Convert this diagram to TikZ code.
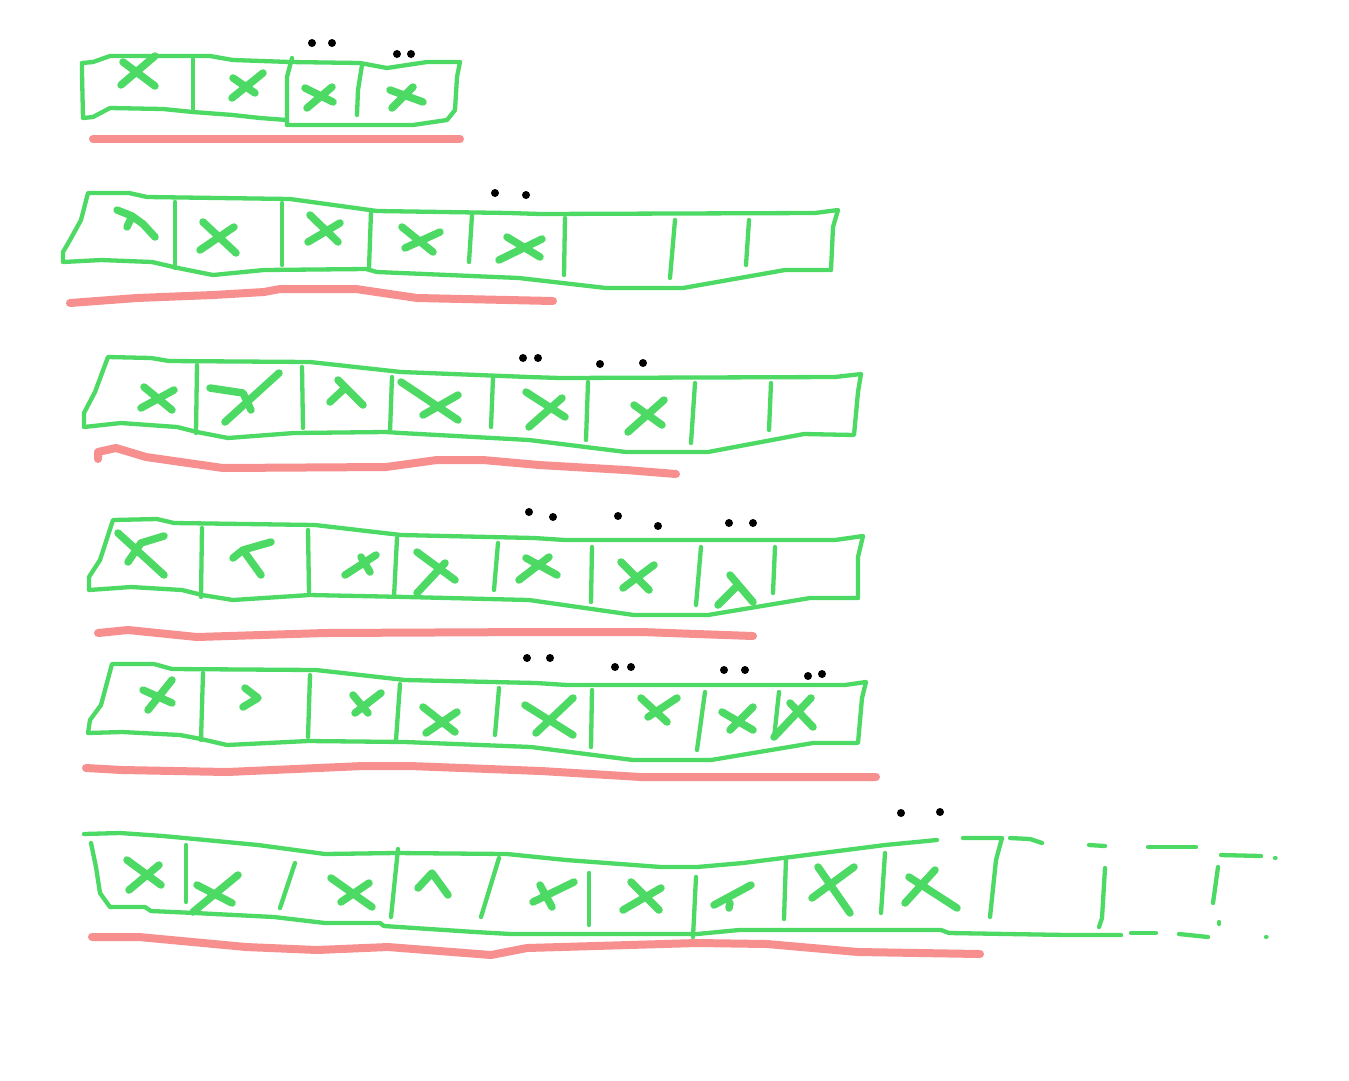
\documentclass[tikz,border=0pt]{standalone}
\definecolor{pen}{RGB}{76,217,100}
\definecolor{hl}{RGB}{247,143,143}
\begin{document}
\begin{tikzpicture}[x=1pt,y=-1pt,
  outline/.style={draw=pen,line width=4.3pt,line cap=round,line join=round},
  xmark/.style={draw=pen,line width=7.5pt,line cap=round,line join=round},
  under/.style={draw=hl,line width=8pt,line cap=round,line join=round},
  pdot/.style={fill=black}]
\useasboundingbox[fill=white] (0,0) rectangle (1349,1080);

% ---------------- Array 1 ----------------
\draw[outline] (82,63) -- (93,62) -- (110,56) -- (153,56) -- (210,56) -- (233,60) -- (290,62) -- (360,63) -- (387,68) -- (427,62) -- (460,62) -- (457,77) -- (455,110) -- (447,120) -- (413,125) -- (313,125) -- (287,125)
  -- (287,120) -- (260,118) -- (233,115) -- (193,112) -- (163,109) -- (110,108) -- (93,117) -- (83,118) -- (82,73) -- (82,63);
\draw[outline] (193,58) -- (193,112);
\draw[outline] (292,58) -- (287,77) -- (287,125);
\draw[outline] (362,65) -- (358,90) -- (357,115);
\draw[xmark] (121,85) -- (155,56) (123,62) -- (155,86);
\draw[xmark] (232,98) -- (263,73) (233,78) -- (255,93);
\draw[xmark] (307,108) -- (332,87) (305,88) -- (333,102);
\draw[xmark] (392,108) -- (413,87) (390,90) -- (423,102);
\fill[pdot] (312,43) circle (4pt) (332,43) circle (4pt) (397,54) circle (4pt) (411,54) circle (4pt);
\draw[under] (93,139) -- (460,139);

% ---------------- Array 2 ----------------
\draw[outline] (88,193) -- (129,193) -- (147,197) -- (290,199) -- (377,211) -- (509,213) -- (540,214) -- (815,213) -- (838,210) -- (833,227) -- (831,270) -- (785,270) -- (683,288) -- (606,288) -- (519,278) -- (377,272) -- (366,269) -- (264,270) -- (213,275) -- (178,268) -- (152,262) -- (101,260) -- (63,262) -- (63,252) -- (70,240) -- (81,220) -- cycle;
\draw[outline] (175,202) -- (175,268);
\draw[outline] (282,203) -- (282,265);
\draw[outline] (371,212) -- (369,268);
\draw[outline] (472,215) -- (469,262);
\draw[outline] (565,218) -- (564,275);
\draw[outline] (675,220) -- (670,278);
\draw[outline] (749,220) -- (746,265);
\draw[xmark] (117,210) -- (132,216) -- (143,224) -- (155,237) (132,216) -- (127,227);
\draw[xmark] (203,222) -- (236,253) (234,227) -- (200,250);
\draw[xmark] (310,215) -- (338,242) (340,223) -- (308,242);
\draw[xmark] (402,227) -- (433,252) (440,232) -- (405,248);
\draw[xmark] (507,237) -- (540,257) (542,239) -- (499,260);
\fill[pdot] (495,193) circle (4pt) (526,195) circle (4pt);
\draw[under] (70,303) -- (137,298) -- (213,295) -- (264,292) -- (280,289) -- (356,289) -- (417,298) -- (553,301);

% ---------------- Array 3 ----------------
\draw[outline] (108,357) -- (151,358) -- (169,361) -- (310,362) -- (401,372) -- (529,377) -- (560,378) -- (835,377) -- (861,374) -- (858,392) -- (854,435) -- (804,434) -- (708,452) -- (626,452) -- (529,440) -- (401,433) -- (386,432) -- (294,433) -- (228,438) -- (197,432) -- (177,427) -- (121,423) -- (84,427) -- (84,413) -- (95,392) -- cycle;
\draw[outline] (197,365) -- (196,433);
\draw[outline] (302,367) -- (303,428);
\draw[outline] (392,377) -- (390,432);
\draw[outline] (493,378) -- (491,427);
\draw[outline] (588,382) -- (586,440);
\draw[outline] (695,383) -- (691,443);
\draw[outline] (771,383) -- (769,430);
\draw[xmark] (144,387) -- (172,410) (174,390) -- (141,408);
\draw[xmark] (210,388) -- (243,393) -- (251,410) (279,373) -- (225,422);
\draw[xmark] (338,380) -- (363,405) (345,388) -- (330,402);
\draw[xmark] (401,382) -- (458,420) (458,395) -- (423,415);
\draw[xmark] (526,392) -- (565,417) (562,398) -- (529,427);
\draw[xmark] (634,405) -- (662,425) (664,400) -- (628,432);
\fill[pdot] (523,358) circle (4pt) (538,358) circle (4pt) (600,364) circle (4pt) (643,363) circle (4pt);
\draw[under] (98,459) -- (98,452) -- (116,448) -- (146,457) -- (223,468) -- (386,467) -- (437,460) -- (483,460) -- (539,465) -- (626,470) -- (676,474);

% ---------------- Array 4 ----------------
\draw[outline] (113,520) -- (157,519) -- (174,523) -- (315,525) -- (401,535) -- (534,538) -- (565,540) -- (835,540) -- (863,536) -- (858,557) -- (858,598) -- (810,598) -- (708,615) -- (634,615) -- (529,600) -- (407,597) -- (310,595) -- (233,600) -- (202,595) -- (182,590) -- (131,587) -- (89,590) -- (89,577) -- (100,560) -- cycle;
\draw[outline] (202,528) -- (201,597);
\draw[outline] (308,530) -- (309,592);
\draw[outline] (397,538) -- (394,597);
\draw[outline] (498,543) -- (494,590);
\draw[outline] (592,547) -- (591,602);
\draw[outline] (701,547) -- (696,605);
\draw[outline] (775,547) -- (773,593);
\draw[xmark] (118,533) -- (164,575) (164,536) -- (141,543) -- (128,562);
\draw[xmark] (271,542) -- (243,550) -- (233,558) (243,550) -- (261,575);
\draw[xmark] (345,575) -- (376,555) (361,557) -- (370,572);
\draw[xmark] (417,552) -- (455,580) (445,563) -- (417,593);
\draw[xmark] (526,558) -- (557,575) (549,557) -- (519,580);
\draw[xmark] (621,562) -- (649,590) (654,565) -- (623,588);
\draw[xmark] (730,575) -- (753,602) (738,585) -- (718,605);
\fill[pdot] (529,512) circle (4pt) (553,517) circle (4pt) (618,516) circle (4pt) (658,526) circle (4pt) (729,523) circle (4pt) (753,523) circle (4pt);
\draw[under] (98,633) -- (128,630) -- (197,637) -- (325,633) -- (539,632) -- (641,632) -- (753,636);

% ---------------- Array 5 ----------------
\draw[outline] (112,664) -- (154,664) -- (172,669) -- (316,670) -- (405,680) -- (536,683) -- (567,685) -- (845,685) -- (866,682) -- (862,698) -- (858,743) -- (813,743) -- (711,760) -- (633,760) -- (531,747) -- (405,742) -- (308,741) -- (227,745) -- (201,739) -- (180,735) -- (122,732) -- (88,733) -- (90,720) -- (101,705) -- cycle;
\draw[outline] (203,673) -- (201,740);
\draw[outline] (310,675) -- (308,737);
\draw[outline] (400,684) -- (396,740);
\draw[outline] (499,688) -- (495,735);
\draw[outline] (592,690) -- (591,747);
\draw[outline] (705,692) -- (697,750);
\draw[outline] (779,692) -- (774,738);
\draw[xmark] (143,690) -- (172,703) (172,680) -- (148,710);
\draw[xmark] (245,688) -- (258,698) -- (243,707);
\draw[xmark] (353,695) -- (368,713) (381,693) -- (355,713);
\draw[xmark] (423,707) -- (455,732) (457,712) -- (426,733);
\draw[xmark] (525,705) -- (573,735) (573,698) -- (536,733);
\draw[xmark] (641,698) -- (667,722) (677,698) -- (648,717);
\draw[xmark] (722,712) -- (753,730) (753,707) -- (730,730);
\draw[xmark] (790,703) -- (813,727) (811,698) -- (774,737);
\fill[pdot] (527,658) circle (4pt) (550,658) circle (4pt) (615,667) circle (4pt) (631,667) circle (4pt) (724,670) circle (4pt) (745,670) circle (4pt) (808,676) circle (4pt) (822,674) circle (4pt);
\draw[under] (86,768) -- (122,770) -- (227,772) -- (363,766) -- (410,766) -- (541,771) -- (641,777) -- (876,777);

% ---------------- Array 6 ----------------
\draw[outline] (84,834) -- (120,833) -- (163,836) -- (195,839) -- (258,845) -- (325,854) -- (396,853) -- (507,854) -- (566,860) -- (661,867) -- (697,867) -- (743,863) -- (791,857) -- (846,850) -- (885,845) -- (937,840);
\draw[outline] (91,843) -- (96,867) -- (100,893) -- (110,907) -- (145,907) -- (151,911) -- (195,913) -- (274,917) -- (325,923) -- (380,923) -- (384,926) -- (475,932) -- (511,934) -- (697,934) -- (739,930) -- (941,930) -- (949,933) -- (1067,935) -- (1121,935);
\draw[outline] (963,838) -- (1002,838) -- (996,860) -- (990,917);
\draw[outline] (1010,838) -- (1030,839) -- (1042,843);
\draw[outline] (1089,845) -- (1105,846);
\draw[outline] (1148,847) -- (1196,847);
\draw[outline] (1221,855) -- (1261,856);
\draw[outline] (1275,858) -- (1275.5,858);
\draw[outline] (1105,868) -- (1102,918) -- (1099,927);
\draw[outline] (1218,867) -- (1213,903);
\draw[outline] (1219,922) -- (1219,924);
\draw[outline] (1131,933) -- (1156,933);
\draw[outline] (1179,934) -- (1208,937);
\draw[outline] (1266,937) -- (1266.5,937);
\draw[outline] (186,845) -- (186,902);
\draw[outline] (295,863) -- (280,908);
\draw[outline] (398,849) -- (391,917);
\draw[outline] (499,858) -- (481,917);
\draw[outline] (589,873) -- (589,925);
\draw[outline] (696,877) -- (693,937);
\draw[outline] (786,858) -- (784,919);
\draw[outline] (885,853) -- (881,913);
\draw[xmark] (127,860) -- (161,885) (159,865) -- (129,890);
\draw[xmark] (197,885) -- (232,903) (238,875) -- (193,912);
\draw[xmark] (331,878) -- (372,907) (369,883) -- (341,902);
\draw[xmark] (418,888) -- (432,873) -- (448,895);
\draw[xmark] (533,902) -- (574,882) (540,885) -- (552,907);
\draw[xmark] (623,910) -- (661,888) (631,882) -- (659,910);
\draw[xmark] (714,905) -- (751,885) (729,908) -- (730,903);
\draw[xmark] (818,867) -- (850,913) (854,867) -- (812,898);
\draw[xmark] (909,877) -- (957,908) (935,870) -- (905,903);
\fill[pdot] (901,813) circle (4pt) (940,812) circle (4pt);
\draw[under] (92,937) -- (139,937) -- (246,947) -- (317,950) -- (388,947) -- (491,955) -- (527,948) -- (697,943) -- (767,944) -- (858,952) -- (980,954);
\end{tikzpicture}
\end{document}
